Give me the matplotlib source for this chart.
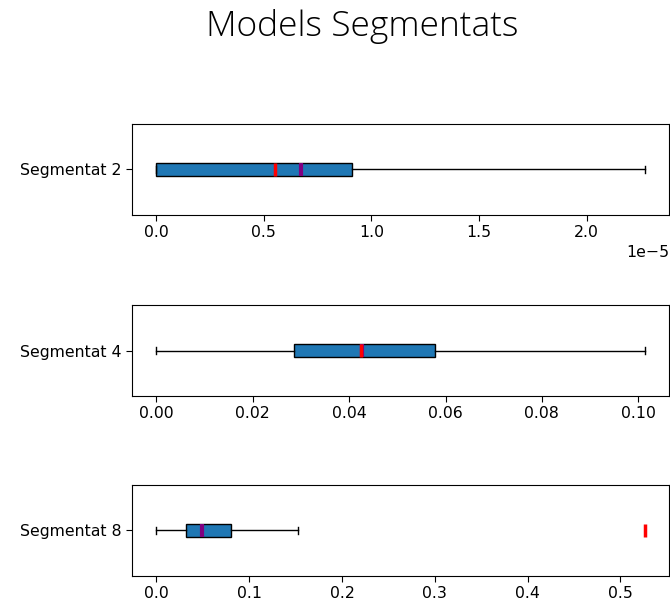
import matplotlib
matplotlib.use("Agg")
import matplotlib.pyplot as plt

plt.rcParams["font.size"] = 11.3
plt.rcParams["xtick.major.size"] = 4
plt.rcParams["ytick.major.size"] = 4

# estadistiques llegides de la imatge (sense outliers)
segments = ["Segmentat 2", "Segmentat 4", "Segmentat 8"]
whislo = [0.0, 0.0, 0.0]
q1 = [0.0, 0.0286, 0.0322]
med = [0.674e-5, 0.0426, 0.049]
mean = [0.55e-5, 0.0424, 0.526]
q3 = [0.909e-5, 0.0578, 0.0803]
whishi = [2.27e-5, 0.1013, 0.153]

fig = plt.figure(figsize=(6.7, 6.06), dpi=100)
fig.text(0.541, 0.9406, "Models Segmentats", ha="center", va="baseline",
         fontsize=25.5, family="Open Sans", fontweight="light")

bottoms = [0.6452, 0.3465, 0.0495]
for i in range(3):
    ax = fig.add_axes([0.197, bottoms[i], 0.8015, 0.1502])
    stats = [{
        "label": segments[i],
        "whislo": whislo[i], "q1": q1[i], "med": med[i],
        "q3": q3[i], "whishi": whishi[i], "mean": mean[i],
        "fliers": [],
    }]
    bp = ax.bxp(stats, vert=False, widths=0.15, patch_artist=True,
                showmeans=True, meanline=True, showfliers=False,
                boxprops=dict(facecolor="#1f77b4", edgecolor="black"),
                medianprops=dict(color="purple", linewidth=3),
                meanprops=dict(color="red", linewidth=2.5, linestyle="-"))
    for l in bp["means"]:
        l.set_zorder(5)

plt.savefig("out.png", dpi=100)
